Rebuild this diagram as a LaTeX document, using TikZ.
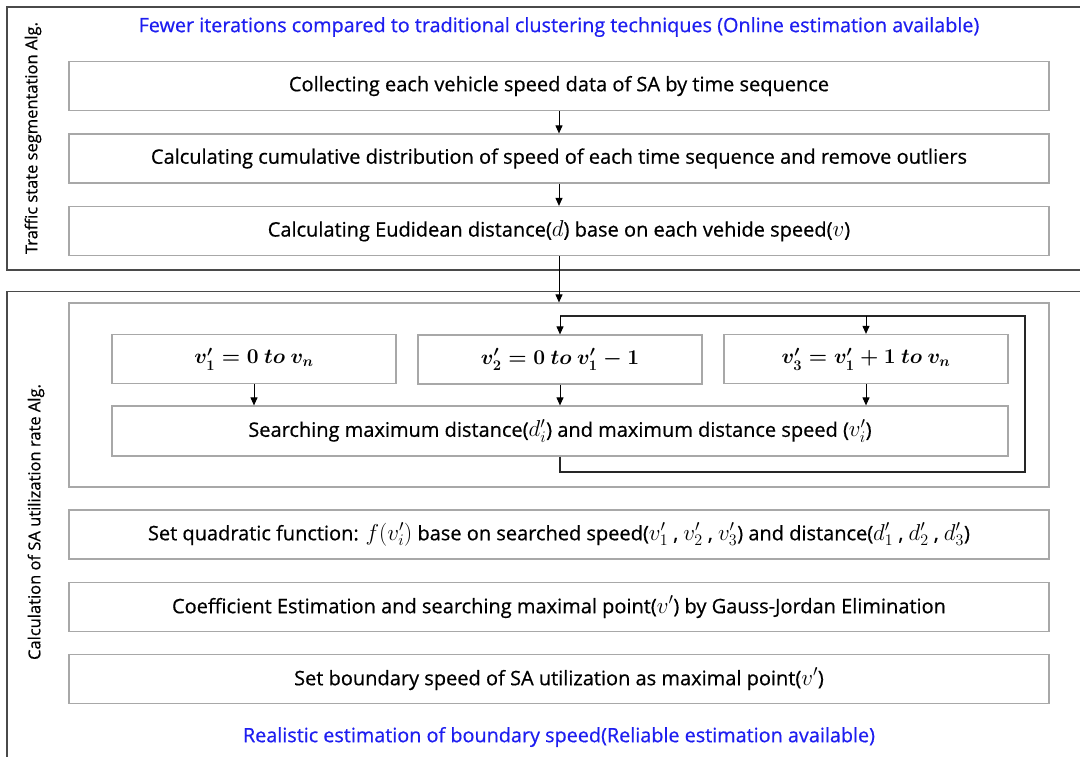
\RequirePackage{fix-cm}
\documentclass[tikz,border=0pt]{standalone}
\usepackage{fontspec}
\setmainfont{Open Sans}[FakeBold=0.6]
\usepackage{tikz}
\usetikzlibrary{arrows.meta,positioning}
\definecolor{marco}{HTML}{4A4A4A}
\definecolor{caja}{HTML}{A8A8A8}
\definecolor{nota}{HTML}{1E1EF0}
% inline symbols a bit larger than the running text
\newcommand\mth[1]{{\fontsize{23}{24}\selectfont$#1$}}

\begin{document}
\begin{tikzpicture}[x=1pt, y=-1pt,
  paso/.style={draw=caja, line width=1.2pt, minimum width=980pt, minimum height=49pt,
               inner sep=0pt, font=\fontsize{20}{24}\selectfont},
  rango/.style={draw=caja, line width=1.2pt, minimum width=284pt, minimum height=49pt,
                inner sep=0pt, font=\fontsize{21}{24}\selectfont\boldmath},
  marcos/.style={draw=marco, line width=1.5pt},
  aviso/.style={text=nota, font=\fontsize{19.8}{24}\selectfont},
  eje/.style={rotate=90, font=\fontsize{16.5}{20}\selectfont},
  flecha/.style={-{Triangle[length=8pt,width=7pt]}, line width=1pt, black},
  vuelta/.style={line width=1.4pt, black!85}]
\useasboundingbox (0,0) rectangle (1080,757);

% two outer frames, cut off at the page edge
\draw[marcos] (1090,7) -- (7,7) -- (7,270) -- (1090,270);
\draw[marcos] (1090,291.5) -- (7,291.5) -- (7,770);

% traffic state segmentation
\node[aviso] (top) at (559,27) {Fewer iterations compared to traditional clustering techniques (Online estimation available)};
\node[eje] (lab1) at (33,138) {Traffic state segmentation Alg.};
\node[paso] (s1) at (559,86) {Collecting each vehicle speed data of SA by time sequence};
\node[paso] (s2) at (559,158.5) {Calculating cumulative distribution of speed of each time sequence and remove outliers};
\node[paso] (s3) at (559,231) {Calculating Eudidean distance(\mth{d}) base on each vehide speed(\mth{v})};
\draw[flecha] (s1) -- (s2);
\draw[flecha] (s2) -- (s3);

% SA utilization rate
\node[eje] (lab2) at (36,522) {Calculation of SA utilization rate Alg.};
\node[paso, minimum height=184pt] (grp) at (559,395) {};
\draw[flecha] (s3) -- (grp.north);

\node[rango] (ra) at (254,359) {$v'_1 = 0\ to\ v_n$};
\node[rango] (rb) at (560,359.5) {$v'_2 = 0\ to\ v'_1 - 1$};
\node[rango] (rc) at (866,359) {$v'_3 = v'_1 + 1\ to\ v_n$};
\node[paso, minimum width=896pt, minimum height=50pt] (srch) at (560,431)
  {Searching maximum distance(\mth{d'_i}) and maximum distance speed (\mth{v'_i})};
\foreach \r in {ra,rb,rc}
  \draw[flecha] (\r) -- (\r |- srch.north);

% repeat loop back to the split
\coordinate (lupa) at (560,316);
\coordinate (lupb) at (1025,472);
\draw[vuelta] (srch.south) |- (lupb) |- (lupa);
\draw[flecha] (lupa) -- (rb.north);
\draw[flecha] (rc |- lupa) -- (rc.north);

\node[paso] (s4) at (559,534.5) {Set quadratic function: \mth{f(v'_i)} base on searched speed(\mth{v'_1} , \mth{v'_2} , \mth{v'_3}) and distance(\mth{d'_1} , \mth{d'_2} , \mth{d'_3})};
\node[paso] (s5) at (559,607) {Coefficient Estimation and searching maximal point(\mth{v'}) by Gauss-Jordan Elimination};
\node[paso] (s6) at (559,679) {Set boundary speed of SA utilization as maximal point(\mth{v'})};
\node[aviso] (bot) at (559,737) {Realistic estimation of boundary speed(Reliable estimation available)};
\end{tikzpicture}
\end{document}
